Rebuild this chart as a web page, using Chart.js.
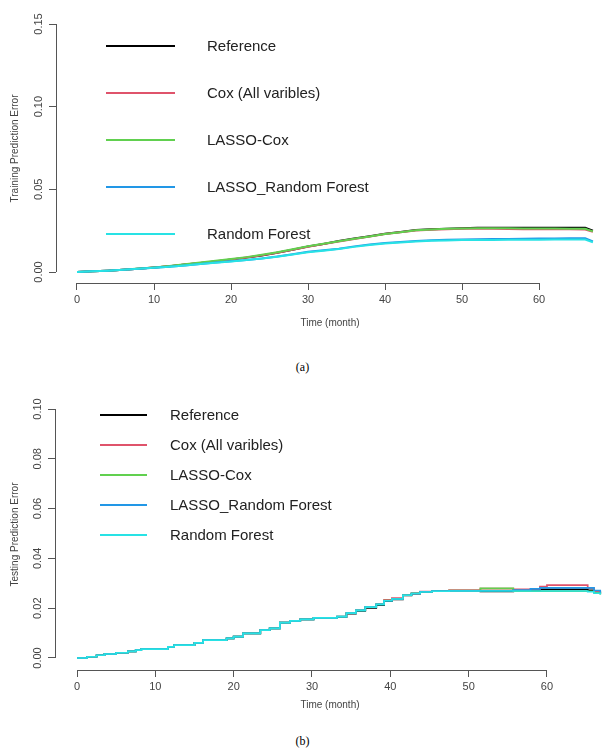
<!DOCTYPE html>
<html>
<head>
<meta charset="utf-8">
<script src="https://cdn.jsdelivr.net/npm/chart.js@4"></script>
<style>
body { margin: 0; background: #fff; width: 605px; height: 751px; overflow: hidden; position: relative; }
canvas { position: absolute; left: 0; }
#trainChart { top: 0; }
#testChart { top: 380px; }
.caption { position: absolute; left: 0; width: 605px; text-align: center; font-family: "Liberation Serif", serif; font-size: 12px; color: #000; }
</style>
</head>
<body>
<canvas id="trainChart" width="605" height="340"></canvas>
<div class="caption" style="top:360px">(a)</div>
<canvas id="testChart" width="605" height="340"></canvas>
<div class="caption" style="top:734px">(b)</div>
<script>
const seriesNames = ['Reference', 'Cox (All varibles)', 'LASSO-Cox', 'LASSO_Random Forest', 'Random Forest'];
const seriesColors = ['#000000', '#DF536B', '#61D04F', '#2297E6', '#28E2E5'];

const xTicks = [0, 10, 20, 30, 40, 50, 60];
const trainYTicks = [0, 0.05, 0.10, 0.15];
const testYTicks = [0, 0.02, 0.04, 0.06, 0.08, 0.10];

// (a) training
const trainMonths = [0, 2, 4, 6, 8, 10, 12, 14, 16, 18, 20, 22, 24, 26, 28, 30, 32, 34, 36, 38, 40, 42, 44, 46, 48, 50, 52, 54, 56, 58, 60, 62, 64, 66, 67];
const trainReference = [0, 0.0004, 0.0008, 0.0013, 0.0020, 0.0027, 0.0035, 0.0045, 0.0055, 0.0064, 0.0075, 0.0087, 0.0100, 0.0117, 0.0135, 0.0154, 0.0170, 0.0187, 0.0202, 0.0216, 0.0232, 0.0242, 0.0254, 0.0258, 0.0262, 0.0265, 0.0267, 0.0268, 0.0268, 0.0268, 0.0268, 0.0268, 0.0268, 0.0267, 0.0250];
const trainCox = [0, 0.0004, 0.0008, 0.0013, 0.0020, 0.0027, 0.0035, 0.0045, 0.0055, 0.0065, 0.0076, 0.0088, 0.0101, 0.0117, 0.0135, 0.0153, 0.0169, 0.0185, 0.0200, 0.0214, 0.0230, 0.0240, 0.0251, 0.0256, 0.0259, 0.0261, 0.0261, 0.0261, 0.0260, 0.0259, 0.0259, 0.0258, 0.0258, 0.0257, 0.0243];
const trainLassoCox = [0, 0.0004, 0.0008, 0.0014, 0.0021, 0.0028, 0.0037, 0.0047, 0.0058, 0.0068, 0.0079, 0.0090, 0.0104, 0.0120, 0.0138, 0.0156, 0.0171, 0.0186, 0.0201, 0.0215, 0.0230, 0.0241, 0.0252, 0.0257, 0.0261, 0.0263, 0.0264, 0.0264, 0.0264, 0.0263, 0.0263, 0.0263, 0.0262, 0.0262, 0.0246];
const trainLassoRF = [0, 0.0004, 0.0008, 0.0013, 0.0019, 0.0025, 0.0032, 0.0040, 0.0049, 0.0057, 0.0065, 0.0073, 0.0082, 0.0094, 0.0108, 0.0122, 0.0131, 0.0141, 0.0155, 0.0166, 0.0176, 0.0182, 0.0188, 0.0192, 0.0195, 0.0197, 0.0198, 0.0199, 0.0200, 0.0201, 0.0202, 0.0203, 0.0204, 0.0204, 0.0185];
const trainRF = [0, 0.0004, 0.0008, 0.0013, 0.0019, 0.0025, 0.0032, 0.0040, 0.0048, 0.0056, 0.0064, 0.0072, 0.0081, 0.0092, 0.0106, 0.0120, 0.0129, 0.0139, 0.0152, 0.0163, 0.0173, 0.0179, 0.0185, 0.0189, 0.0191, 0.0193, 0.0194, 0.0194, 0.0195, 0.0195, 0.0195, 0.0196, 0.0196, 0.0196, 0.0180];

// (b) testing
const testMonths = [0, 1.3, 2.5, 3.5, 5, 6.5, 7.5, 8.2, 11.6, 12.4, 15, 16.1, 19.1, 20, 21.2, 23.4, 24.6, 25.9, 27.2, 28.5, 30.2, 33.2, 34.4, 35.6, 36.8, 38.2, 39.2, 40.2, 41.6, 42.7, 43.8, 45.3, 47.5, 51.5, 55.7, 57.9, 59.1, 60, 65.2, 66, 66.8];
const testReference = [0, 0.0005, 0.0011, 0.0016, 0.0021, 0.0027, 0.0032, 0.0036, 0.0045, 0.0052, 0.0061, 0.0072, 0.0079, 0.0086, 0.0099, 0.0112, 0.0119, 0.0142, 0.0149, 0.0155, 0.0160, 0.0164, 0.0178, 0.0189, 0.0201, 0.0212, 0.0228, 0.0235, 0.0251, 0.0258, 0.0265, 0.0268, 0.0270, 0.0267, 0.0272, 0.0273, 0.0276, 0.0276, 0.0272, 0.0264, 0.0258];
const testCox = [0, 0.0005, 0.0011, 0.0016, 0.0021, 0.0027, 0.0032, 0.0036, 0.0045, 0.0052, 0.0061, 0.0072, 0.0079, 0.0086, 0.0099, 0.0112, 0.0119, 0.0142, 0.0149, 0.0155, 0.0161, 0.0166, 0.0181, 0.0192, 0.0205, 0.0217, 0.0234, 0.0241, 0.0254, 0.0261, 0.0267, 0.0270, 0.0273, 0.0279, 0.0276, 0.0278, 0.0287, 0.0293, 0.0281, 0.0266, 0.0257];
const testLassoCox = [0, 0.0005, 0.0011, 0.0016, 0.0021, 0.0027, 0.0032, 0.0036, 0.0045, 0.0052, 0.0061, 0.0072, 0.0079, 0.0086, 0.0099, 0.0112, 0.0119, 0.0142, 0.0149, 0.0155, 0.0161, 0.0166, 0.0180, 0.0191, 0.0204, 0.0215, 0.0231, 0.0238, 0.0253, 0.0260, 0.0266, 0.0269, 0.0271, 0.0280, 0.0268, 0.0268, 0.0268, 0.0268, 0.0268, 0.0262, 0.0255];
const testLassoRF = [0, 0.0005, 0.0011, 0.0016, 0.0021, 0.0027, 0.0032, 0.0036, 0.0045, 0.0052, 0.0061, 0.0072, 0.0079, 0.0086, 0.0099, 0.0112, 0.0119, 0.0142, 0.0149, 0.0155, 0.0161, 0.0166, 0.0180, 0.0191, 0.0204, 0.0215, 0.0230, 0.0237, 0.0252, 0.0259, 0.0266, 0.0269, 0.0270, 0.0270, 0.0273, 0.0278, 0.0282, 0.0282, 0.0282, 0.0271, 0.0262];
const testRF = [0, 0.0005, 0.0011, 0.0016, 0.0021, 0.0027, 0.0032, 0.0036, 0.0045, 0.0052, 0.0061, 0.0072, 0.0079, 0.0086, 0.0099, 0.0112, 0.0119, 0.0142, 0.0149, 0.0155, 0.0161, 0.0166, 0.0180, 0.0191, 0.0204, 0.0215, 0.0230, 0.0237, 0.0252, 0.0259, 0.0265, 0.0268, 0.0269, 0.0269, 0.0269, 0.0269, 0.0269, 0.0269, 0.0266, 0.0260, 0.0255];

const toPoints = (months, values) => months.map((m, i) => ({ x: m, y: values[i] }));

// R-style axes, rotated y labels, titles and the plain legend
const rPlot = {
    id: 'rPlot',
    afterDraw(chart, args, opts) {
        const ctx = chart.ctx;
        const xs = chart.scales.x;
        const ys = chart.scales.y;
        const area = chart.chartArea;
        ctx.save();

        ctx.strokeStyle = '#555';
        ctx.lineWidth = 1;
        ctx.beginPath();
        ctx.moveTo(xs.getPixelForValue(xTicks[0]), area.bottom + 0.5);
        ctx.lineTo(xs.getPixelForValue(xTicks[xTicks.length - 1]), area.bottom + 0.5);
        ctx.moveTo(area.left + 0.5, ys.getPixelForValue(opts.yTicks[0]));
        ctx.lineTo(area.left + 0.5, ys.getPixelForValue(opts.yTicks[opts.yTicks.length - 1]));
        ctx.stroke();

        ctx.fillStyle = '#444';
        ctx.textAlign = 'center';
        ctx.textBaseline = 'middle';
        ctx.font = '11px "Liberation Sans"';
        opts.yTicks.forEach(v => {
            ctx.save();
            ctx.translate(opts.yLabelX, ys.getPixelForValue(v));
            ctx.rotate(-Math.PI / 2);
            ctx.fillText(v.toFixed(2), 0, 0);
            ctx.restore();
        });

        ctx.font = '10px "Liberation Sans"';
        ctx.fillText('Time (month)', 330, opts.xTitleY);
        ctx.save();
        ctx.translate(15, (area.top + area.bottom) / 2);
        ctx.rotate(-Math.PI / 2);
        ctx.fillText(opts.yTitle, 0, 0);
        ctx.restore();

        const lg = opts.legend;
        ctx.font = '15px "Liberation Sans"';
        ctx.textAlign = 'left';
        ctx.fillStyle = '#222';
        chart.data.datasets.forEach((ds, i) => {
            const yy = lg.top + i * lg.gap;
            ctx.strokeStyle = ds.borderColor;
            ctx.lineWidth = 2;
            ctx.beginPath();
            ctx.moveTo(lg.x1, yy);
            ctx.lineTo(lg.x2, yy);
            ctx.stroke();
            ctx.fillText(ds.label, lg.textX, yy + 1);
        });

        ctx.restore();
    }
};

const makeChart = (id, months, series, s) => new Chart(document.getElementById(id).getContext('2d'), {
    type: 'line',
    data: {
        datasets: series.map((values, i) => ({
            label: seriesNames[i],
            data: toPoints(months, values),
            borderColor: seriesColors[i],
            borderWidth: s.lineWidth,
            stepped: s.stepped,
            fill: false,
            order: series.length - i,
        })),
    },
    options: {
        responsive: false,
        animation: false,
        layout: { padding: { top: s.top, right: 1, left: 0, bottom: 0 } },
        elements: { point: { radius: 0 }, line: { tension: 0 } },
        plugins: {
            legend: { display: false },
            tooltip: { enabled: false },
            rPlot: s.plot,
        },
        scales: {
            x: {
                type: 'linear',
                min: s.xMin,
                max: s.xMax,
                afterBuildTicks: scale => { scale.ticks = xTicks.map(v => ({ value: v })); },
                afterFit: scale => { scale.height = s.xHeight; },
                grid: { drawOnChartArea: false, drawTicks: true, tickLength: 7, color: '#555' },
                border: { display: false },
                ticks: {
                    color: '#444',
                    font: { family: 'Liberation Sans', size: 11 },
                    padding: 3,
                    maxRotation: 0,
                    autoSkip: false,
                    callback: v => String(v),
                },
            },
            y: {
                type: 'linear',
                min: s.yMin,
                max: s.yMax,
                afterBuildTicks: scale => { scale.ticks = s.plot.yTicks.map(v => ({ value: v })); },
                afterFit: scale => { scale.width = s.yWidth; },
                grid: { drawOnChartArea: false, drawTicks: true, tickLength: 7, color: '#555' },
                border: { display: false },
                ticks: { display: false },
            },
        },
    },
    plugins: [rPlot],
});

makeChart('trainChart', trainMonths,
    [trainReference, trainCox, trainLassoCox, trainLassoRF, trainRF], {
        top: 14, xHeight: 57, yWidth: 56,
        xMin: -2.727, xMax: 68.44, yMin: -0.00665, yMax: 0.15605,
        lineWidth: 2, stepped: false,
        plot: {
            yTicks: trainYTicks, yLabelX: 39, xTitleY: 323,
            yTitle: 'Training Prediction Error',
            legend: { x1: 106, x2: 175, textX: 207, top: 46, gap: 47 },
        },
    });

makeChart('testChart', testMonths,
    [testReference, testCox, testLassoCox, testLassoRF, testRF], {
        top: 19, xHeight: 50, yWidth: 55,
        xMin: -2.81, xMax: 67.28, yMin: -0.00482, yMax: 0.10402,
        lineWidth: 1.7, stepped: true,
        plot: {
            yTicks: testYTicks, yLabelX: 38, xTitleY: 325,
            yTitle: 'Testing Prediction Error',
            legend: { x1: 100, x2: 147, textX: 170, top: 35, gap: 30 },
        },
    });
</script>
</body>
</html>
